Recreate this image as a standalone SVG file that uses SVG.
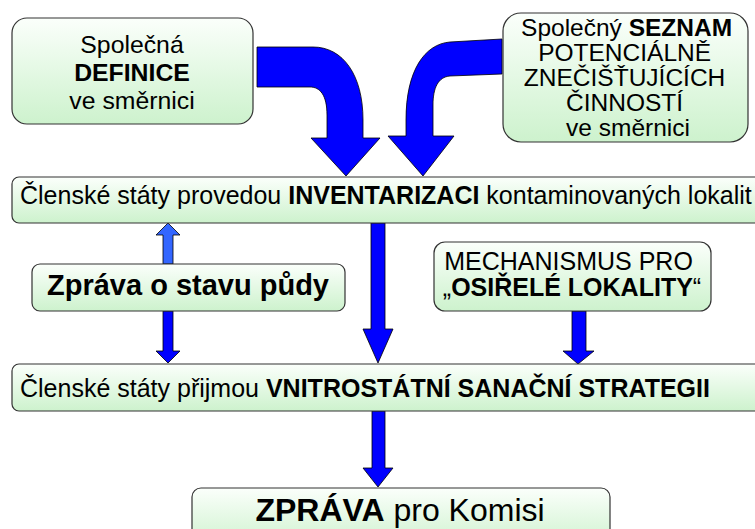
<svg xmlns="http://www.w3.org/2000/svg" width="755" height="529" viewBox="0 0 755 529">
<defs>
<linearGradient id="g" x1="0" y1="0" x2="0" y2="1">
<stop offset="0" stop-color="#fbfffb"/>
<stop offset="1" stop-color="#cdf2cd"/>
</linearGradient>
<style>
.box{fill:url(#g);stroke:#333;stroke-width:1.2}
.t{font-family:"Liberation Sans",Arial,sans-serif;fill:#000}
.b{font-weight:bold}
.arr{fill:#0000ff;stroke:#000;stroke-width:0.8;stroke-linejoin:miter}
.arrl{fill:#3366ff;stroke:#000;stroke-width:0.8}
</style>
</defs>
<rect width="755" height="529" fill="#fff"/>
<g id="connectors">
<path class="arr" d="M257,47 L313,47 C343,47 363,75 363,120 L363,138 L380,138 L346,176 L311,138 L327,138 L327,115 C327,95 320,87 310,87 L257,87 Z"/>
<path class="arr" d="M502,39 L502,74 L450,76 C438,77 433,88 433,105 L433,136 L454,136 L423,176 L388,136 L406,136 L406,120 C406,70 425,44 450,42 Z"/>
<path class="arr" d="M371,223 L385,223 L385,329 L393,329 L378,363 L363,329 L371,329 Z"/>
<path class="arrl" d="M163,264 L163,235 L156,235 L168,223 L180,235 L173,235 L173,264 Z"/>
<path class="arr" d="M163,311 L173,311 L173,351 L180,351 L168,363 L156,351 L163,351 Z"/>
<path class="arr" d="M572,311 L586,311 L586,351 L594,351 L578,364 L563,351 L572,351 Z"/>
<path class="arr" d="M372,411 L385,411 L385,468 L393,468 L378,487 L363,468 L372,468 Z"/>
</g>
<g id="definice">
<rect class="box" x="12" y="18" width="241" height="106" rx="15"/>
<text class="t" x="132" y="53" font-size="24.8" text-anchor="middle">Společná</text>
<text class="t b" x="132" y="81" font-size="24.8" text-anchor="middle">DEFINICE</text>
<text class="t" x="132" y="109" font-size="24.8" text-anchor="middle">ve směrnici</text>
</g>
<g id="seznam">
<rect class="box" x="503" y="13" width="245" height="129" rx="18"/>
<text class="t" font-size="24.5" text-anchor="middle">
<tspan x="630" y="36">Společný <tspan class="b">SEZNAM</tspan></tspan>
<tspan x="628" y="61">POTENCIÁLNĚ</tspan>
<tspan x="628" y="86">ZNEČIŠŤUJÍCÍCH</tspan>
<tspan x="628" y="111">ČINNOSTÍ</tspan>
<tspan x="628" y="136">ve směrnici</tspan>
</text>
</g>
<g id="inventarizace">
<rect class="box" x="12" y="177" width="760" height="46" rx="7"/>
<text class="t" x="20" y="204" font-size="25">Členské státy provedou <tspan class="b">INVENTARIZACI</tspan> kontaminovaných lokalit</text>
</g>
<g id="zprava-puda">
<rect class="box" x="32" y="264" width="313" height="47" rx="8"/>
<text class="t b" x="188" y="295" font-size="29" text-anchor="middle">Zpráva o stavu půdy</text>
</g>
<g id="osirele">
<rect class="box" x="434" y="242" width="277" height="69" rx="11"/>
<text class="t" font-size="25" text-anchor="middle">
<tspan x="572" y="270">MECHANISMUS PRO</tspan>
<tspan x="572" y="296">„<tspan class="b">OSIŘELÉ LOKALITY</tspan>“</tspan>
</text>
</g>
<g id="strategie">
<rect class="box" x="12" y="364" width="760" height="47" rx="7"/>
<text class="t" x="20" y="397" font-size="25">Členské státy přijmou <tspan class="b">VNITROSTÁTNÍ SANAČNÍ STRATEGII</tspan></text>
</g>
<g id="zprava-komise">
<rect class="box" x="192" y="488" width="418" height="60" rx="9"/>
<text class="t" x="400" y="521" font-size="32" text-anchor="middle"><tspan class="b">ZPRÁVA</tspan> pro Komisi</text>
</g>
</svg>
